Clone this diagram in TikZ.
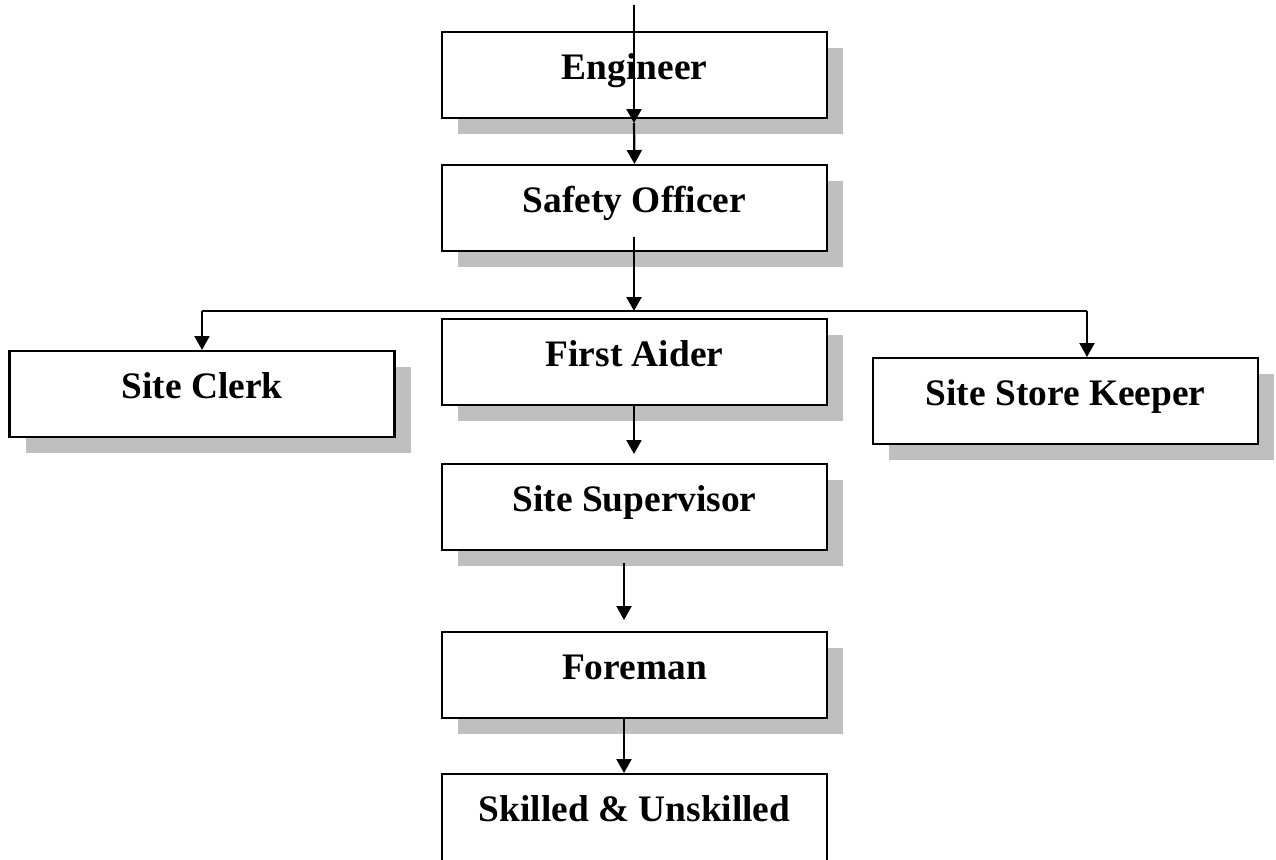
\documentclass[tikz,border=0pt]{standalone}
\usepackage{fontspec}
\setmainfont{Liberation Serif}
\usetikzlibrary{arrows.meta,shadows}
\begin{document}
\begin{tikzpicture}[x=1pt,y=-1pt,
  box/.style={draw=black, line width=2.4pt, fill=white, minimum width=385pt,
    inner sep=0pt, text height=47.5pt, text depth=38.5pt,
    font=\fontsize{37.4}{44}\selectfont\bfseries},
  shad/.style={drop shadow={shadow xshift=16pt, shadow yshift=-16pt,
    fill=black!25, opacity=1}},
  arr/.style={line width=2.2pt, -{Triangle[length=14pt,width=15pt]}},
  ln/.style={line width=2.2pt}]
\useasboundingbox (0,0) rectangle (1276,859);
\fill[white] (0,0) rectangle (1276,859);
\clip (0,0) rectangle (1276,859);

% boxes
\node[box,shad,anchor=north] (eng)   at (634.5,31)  {Engineer};
\node[box,shad,anchor=north] (saf)   at (634.5,164) {Safety Officer};
\node[box,shad,anchor=north] (first) at (634.5,318) {First Aider};
\node[box,shad,anchor=north] (clerk) at (202,350)   {Site Clerk};
\node[box,shad,anchor=north] (store) at (1065.5,357) {Site Store Keeper};
\node[box,shad,anchor=north] (sup)   at (634.5,463) {Site Supervisor};
\node[box,shad,anchor=north] (fore)  at (634.5,631) {Foreman};
\node[box,anchor=north,text depth=70pt] (skill) at (634.5,773) {Skilled \& Unskilled};

% free ends of connectors
\coordinate (top)   at (634,5);
\coordinate (engmid) at (634,123);
\coordinate (safin) at (634,237);
\coordinate (bar)   at (634,311);
\coordinate (barL)  at (202,311);
\coordinate (barR)  at (1087,311);
\coordinate (storein) at (1087,357);
\coordinate (firstout) at (634,404);
\coordinate (supin) at (634,454);
\coordinate (supout) at (624,563);
\coordinate (forein) at (624,620);
\coordinate (foreout) at (624,717);
\coordinate (skillin) at (624,773);

% connectors
\draw[arr] (top) -- (engmid);
\draw[arr] (engmid) -- (saf.north);
\draw[arr] (safin) -- (bar);
\draw[ln] (barL) -- (barR);
\draw[arr] (barL) -- (clerk.north);
\draw[arr] (barR) -- (storein);
\draw[arr] (firstout) -- (supin);
\draw[arr] (supout) -- (forein);
\draw[arr] (foreout) -- (skillin);
\end{tikzpicture}
\end{document}
